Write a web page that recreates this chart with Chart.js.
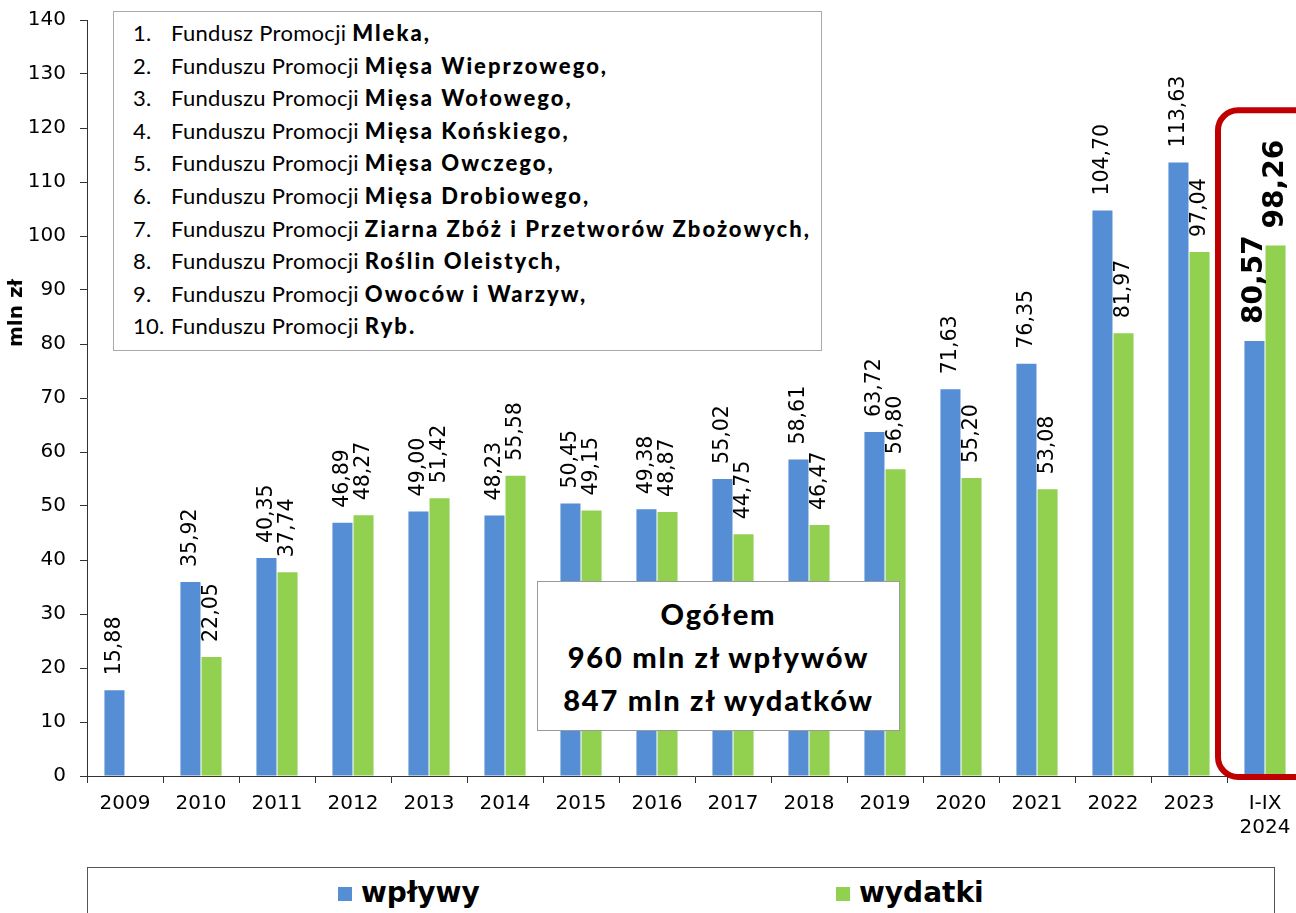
<!DOCTYPE html>
<html lang="pl">
<head>
<meta charset="UTF-8">
<title>Fundusze promocji - wpływy i wydatki</title>
<script src="https://cdn.jsdelivr.net/npm/chart.js"></script>
<style>
  html, body { margin: 0; padding: 0; background: #fff; overflow: hidden; }
  #wrap { position: relative; width: 1303px; height: 913px; }
  #fundList {
    position: absolute; left: 113px; top: 11px; width: 709px; height: 340px;
    border: 1px solid #aaa; background: #fff;
    font-family: Lato, "Open Sans", sans-serif; font-size: 22px; color: #000;
    padding-top: 5px; box-sizing: border-box; letter-spacing: 0.3px;
  }
  #fundList .row { position: relative; height: 32.6px; line-height: 32.6px; white-space: nowrap; }
  #fundList .num { position: absolute; left: 19px; }
  #fundList .txt { position: absolute; left: 57px; }
  #fundList b { font-weight: 900; letter-spacing: 2px; }
  #summary {
    position: absolute; left: 537px; top: 581px; width: 363px; height: 150px;
    border: 1.5px solid #999; background: #fff; box-sizing: border-box;
    font-family: Lato, sans-serif; font-weight: 900; font-size: 29px; letter-spacing: 1.8px;
    text-align: center; line-height: 43px; padding-top: 10px;
  }
  #yTitle {
    position: absolute; left: 15px; top: 313px; transform: translate(-50%, -50%) rotate(-90deg);
    font-family: "DejaVu Sans", sans-serif; font-weight: bold; font-size: 20px; white-space: nowrap;
  }
  #legendBox {
    position: absolute; left: 87px; top: 867px; width: 1188px; height: 60px;
    border: 1.5px solid #555; box-sizing: border-box; background: #fff;
    font-family: "DejaVu Sans", sans-serif; font-weight: bold; font-size: 28px;
  }
  .leg { position: absolute; top: 8px; white-space: nowrap; line-height: 34px; }
  .leg i { display: inline-block; width: 14px; height: 14px; margin-right: 9px; vertical-align: 1px; }
</style>
</head>
<body>
<div id="wrap">
  <canvas id="chart" width="1303" height="913"></canvas>
  <div id="yTitle">mln zł</div>
  <div id="fundList"></div>
  <div id="summary"></div>
  <div id="legendBox"></div>
</div>
<script>
// kategorie (lata)
const years = ['2009','2010','2011','2012','2013','2014','2015','2016','2017','2018','2019','2020','2021','2022','2023',['I-IX','2024']];
// wpływy i wydatki funduszy, mln zł
const wplywy  = [15.88, 35.92, 40.35, 46.89, 49.00, 48.23, 50.45, 49.38, 55.02, 58.61, 63.72, 71.63, 76.35, 104.70, 113.63, 80.57];
const wydatki = [null, 22.05, 37.74, 48.27, 51.42, 55.58, 49.15, 48.87, 44.75, 46.47, 56.80, 55.20, 53.08, 81.97, 97.04, 98.26];
const seriesNames = ['wpływy', 'wydatki'];
const yTicks = [0, 10, 20, 30, 40, 50, 60, 70, 80, 90, 100, 110, 120, 130, 140];

const funds = [
  ['Fundusz Promocji', 'Mleka,'],
  ['Funduszu Promocji', 'Mięsa Wieprzowego,'],
  ['Funduszu Promocji', 'Mięsa Wołowego,'],
  ['Funduszu Promocji', 'Mięsa Końskiego,'],
  ['Funduszu Promocji', 'Mięsa Owczego,'],
  ['Funduszu Promocji', 'Mięsa Drobiowego,'],
  ['Funduszu Promocji', 'Ziarna Zbóż i Przetworów Zbożowych,'],
  ['Funduszu Promocji', 'Roślin Oleistych,'],
  ['Funduszu Promocji', 'Owoców i Warzyw,'],
  ['Funduszu Promocji', 'Ryb.']
];
const summaryLines = ['Ogółem', '960 mln zł wpływów', '847 mln zł wydatków'];

const BLUE = '#558ED5';
const GREEN = '#92D050';
const highlightIndex = 15;   // I-IX 2024 ramka
const highlightTop = 123.3;

// lista funduszy
const list = document.getElementById('fundList');
funds.forEach((f, i) => {
  const row = document.createElement('div');
  row.className = 'row';
  row.innerHTML = '<span class="num">' + (i + 1) + '.</span><span class="txt">' + f[0] + ' <b>' + f[1] + '</b></span>';
  list.appendChild(row);
});
document.getElementById('summary').innerHTML = summaryLines.join('<br>');

// legenda
const legendBox = document.getElementById('legendBox');
[[BLUE, seriesNames[0], 250], [GREEN, seriesNames[1], 748]].forEach(([c, name, left]) => {
  const d = document.createElement('div');
  d.className = 'leg';
  d.style.left = left + 'px';
  d.innerHTML = '<i style="background:' + c + '"></i>' + name;
  legendBox.appendChild(d);
});

function fmt(v) { return v.toFixed(2).replace('.', ','); }

const valueLabels = {
  id: 'valueLabels',
  afterDatasetsDraw(chart) {
    const ctx = chart.ctx;
    chart.data.datasets.forEach((ds, di) => {
      const meta = chart.getDatasetMeta(di);
      meta.data.forEach((bar, i) => {
        const v = ds.data[i];
        if (v == null) return;
        const last = i === highlightIndex;
        ctx.save();
        ctx.translate(bar.x, bar.y - (last ? 17 : 15));
        ctx.rotate(-Math.PI / 2);
        ctx.font = (last ? 'bold 28px' : '20.5px') + ' "DejaVu Sans", sans-serif';
        ctx.fillStyle = '#000';
        ctx.textAlign = 'left';
        ctx.textBaseline = 'middle';
        ctx.fillText(fmt(v), 0, 0);
        ctx.restore();
      });
    });
  }
};

const highlightFrame = {
  id: 'highlightFrame',
  afterDraw(chart) {
    const xs = chart.scales.x, ys = chart.scales.y;
    const cw = xs.getPixelForValue(1) - xs.getPixelForValue(0);
    const left = xs.getPixelForValue(highlightIndex) - cw / 2 - 9;
    const right = xs.getPixelForValue(highlightIndex) + cw / 2 + 30;
    const top = ys.getPixelForValue(highlightTop);
    const bottom = ys.getPixelForValue(0) + 1;
    const ctx = chart.ctx;
    ctx.save();
    ctx.strokeStyle = '#C00000';
    ctx.lineWidth = 6;
    ctx.beginPath();
    ctx.roundRect(left, top, right - left, bottom - top, 20);
    ctx.stroke();
    ctx.restore();
  }
};

new Chart(document.getElementById('chart'), {
  type: 'bar',
  data: {
    labels: years,
    datasets: [
      { label: seriesNames[0], data: wplywy, backgroundColor: BLUE },
      { label: seriesNames[1], data: wydatki, backgroundColor: GREEN }
    ]
  },
  options: {
    responsive: false,
    animation: false,
    categoryPercentage: 0.555,
    barPercentage: 0.95,
    layout: { padding: { top: 20, left: 0, right: 0, bottom: 0 } },
    plugins: { legend: { display: false }, tooltip: { enabled: false } },
    scales: {
      x: {
        grid: { display: true, drawOnChartArea: false, tickLength: 7, color: '#333', offset: true },
        border: { color: '#333', width: 1 },
        ticks: { color: '#000', font: { family: 'DejaVu Sans', size: 20 }, padding: 9, maxRotation: 0 },
        afterFit(s) { s.height = 137; }
      },
      y: {
        min: 0, max: 140,
        afterBuildTicks(s) { s.ticks = yTicks.map(v => ({ value: v })); },
        grid: { display: true, drawOnChartArea: false, tickLength: 7, color: '#333' },
        border: { color: '#333', width: 1 },
        ticks: { color: '#000', font: { family: 'DejaVu Sans', size: 20 }, padding: 14 },
        afterFit(s) { s.width = 87; s.paddingTop = 0; s.paddingBottom = 0; }
      }
    }
  },
  plugins: [valueLabels, highlightFrame]
});
</script>
</body>
</html>
